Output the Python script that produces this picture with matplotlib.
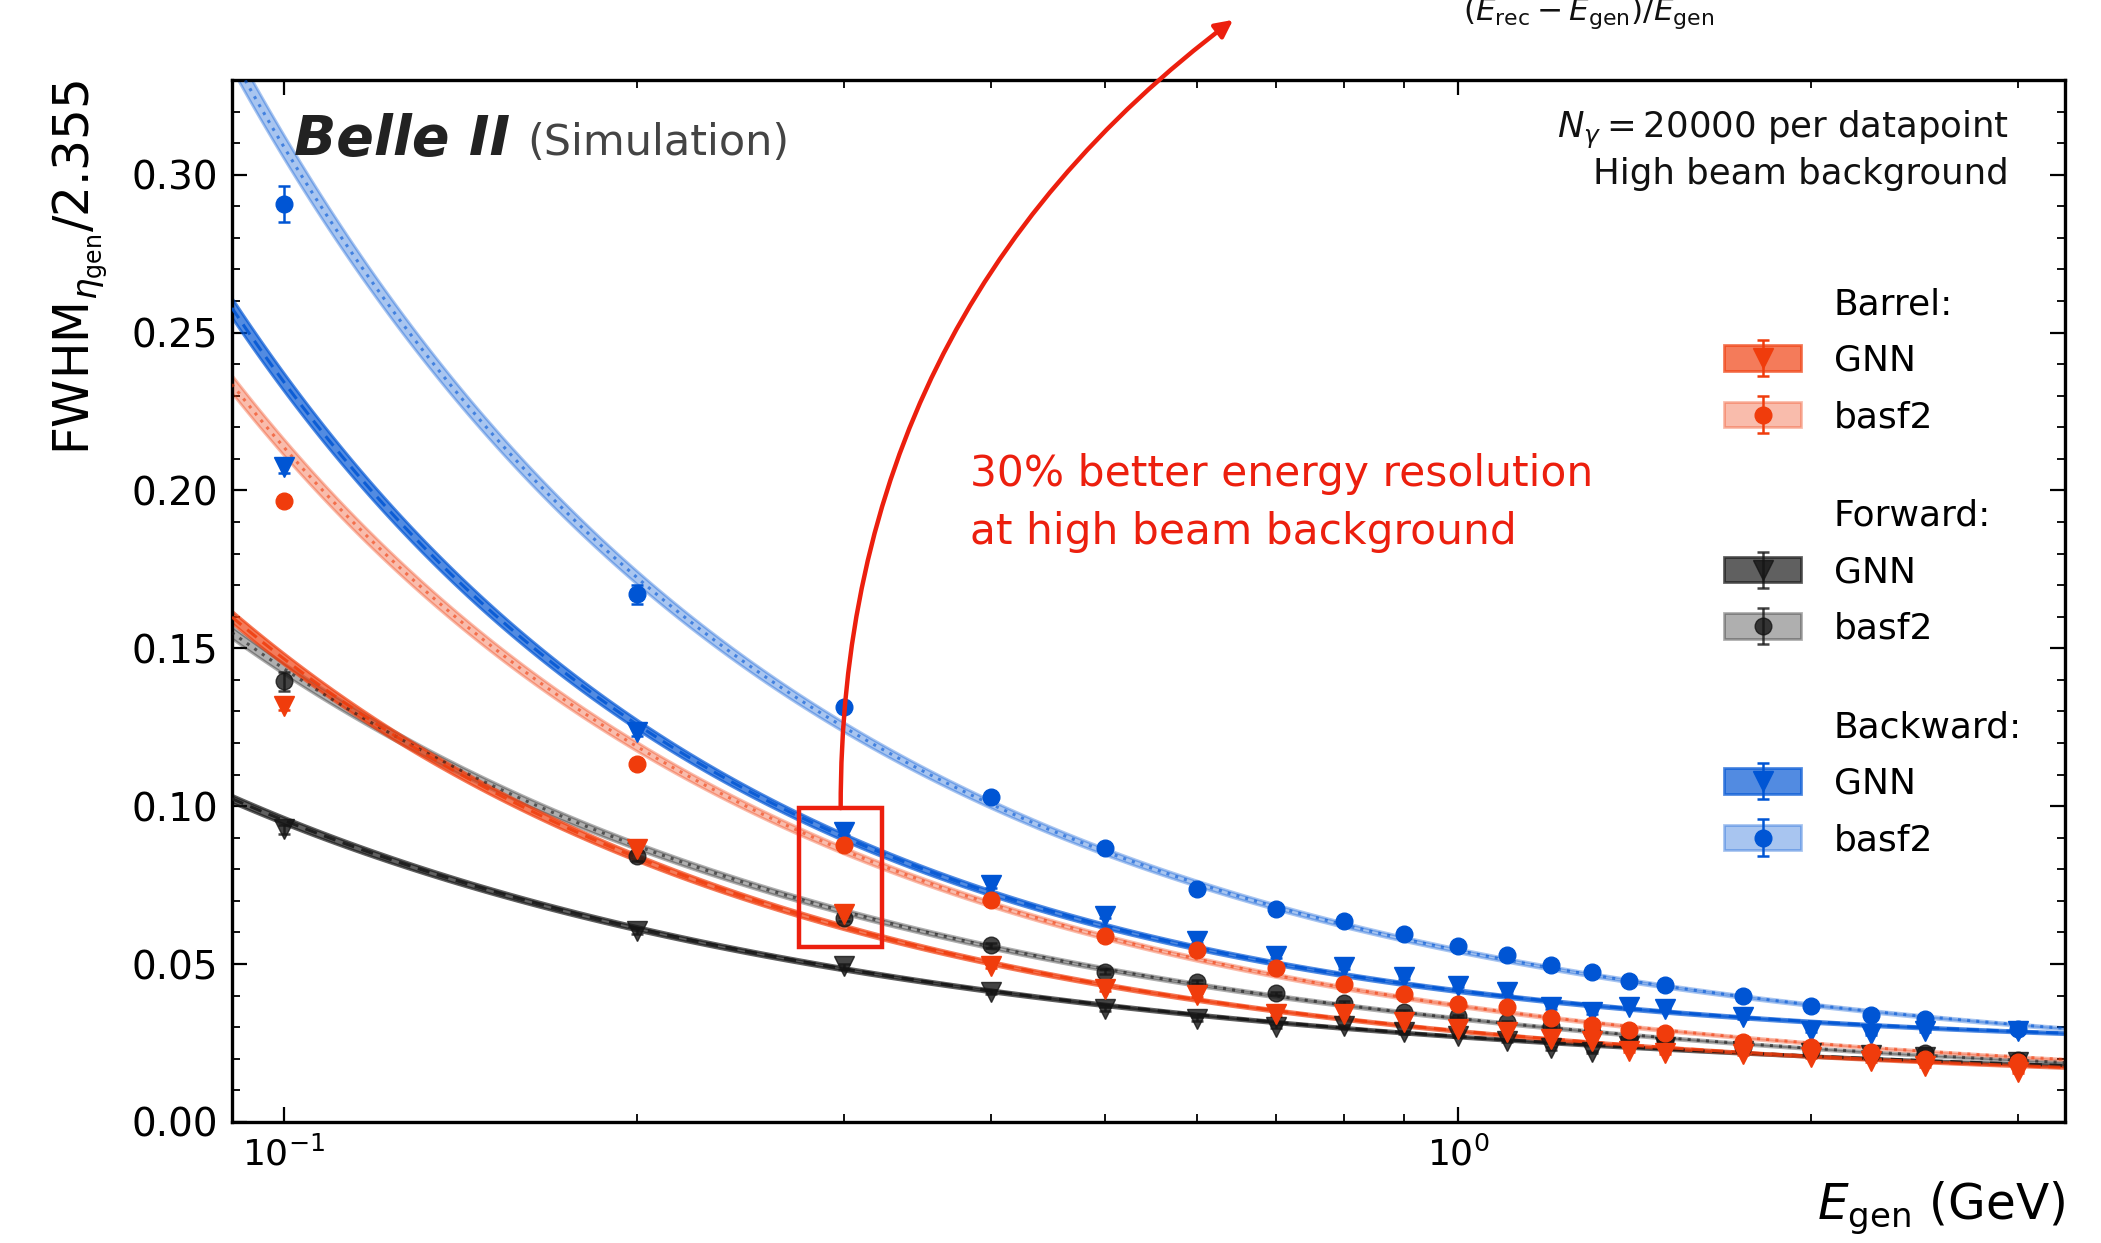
import numpy as np
import matplotlib
matplotlib.use("Agg")
from matplotlib import pyplot as plt
from matplotlib.patches import Patch, Rectangle
from matplotlib.legend import Legend
from matplotlib.ticker import MultipleLocator, FormatStrFormatter, NullFormatter

# generated photon energy (GeV)
energy = [0.1, 0.2, 0.3, 0.4, 0.5, 0.6, 0.7, 0.8, 0.9, 1.0,
          1.1, 1.2, 1.3, 1.4, 1.5, 1.75, 2.0, 2.25, 2.5, 3.0]

# FWHM/2.355 of (E_rec - E_gen)/E_gen
barrel_gnn = [0.1316, 0.0864, 0.0658, 0.0495, 0.0421, 0.0402, 0.0342, 0.0342, 0.0316, 0.0294,
              0.0284, 0.0263, 0.0257, 0.0226, 0.0218, 0.0215, 0.0205, 0.0194, 0.0178, 0.0157]
barrel_basf2 = [0.1966, 0.1133, 0.0878, 0.0703, 0.0590, 0.0545, 0.0488, 0.0437, 0.0404, 0.0374,
                0.0364, 0.0328, 0.0307, 0.0292, 0.0282, 0.0252, 0.0236, 0.0221, 0.0199, 0.0189]
forward_gnn = [0.0927, 0.0605, 0.0493, 0.0412, 0.0358, 0.0326, 0.0302, 0.0303, 0.0284, 0.0273,
               0.0257, 0.0233, 0.0221, 0.0241, 0.0236, 0.0225, 0.0218, 0.0211, 0.0206, 0.0189]
forward_basf2 = [0.1395, 0.0841, 0.0646, 0.0560, 0.0476, 0.0444, 0.0407, 0.0377, 0.0349, 0.0334,
                 0.0315, 0.0305, 0.0284, 0.0263, 0.0257, 0.0236, 0.0226, 0.0215, 0.0218, 0.0197]
backward_gnn = [0.2075, 0.1235, 0.0919, 0.0750, 0.0653, 0.0574, 0.0526, 0.0490, 0.0458, 0.0431,
                0.0410, 0.0363, 0.0347, 0.0363, 0.0358, 0.0331, 0.0289, 0.0278, 0.0289, 0.0289]
backward_basf2 = [0.2908, 0.1671, 0.1315, 0.1028, 0.0867, 0.0737, 0.0676, 0.0637, 0.0594, 0.0557,
                  0.0529, 0.0497, 0.0476, 0.0447, 0.0434, 0.0400, 0.0366, 0.0340, 0.0326, 0.0294]

# uncertainties on the resolution
barrel_gnn_err = [0.0012, 0.0010, 0.0008, 0.0006, 0.0006, 0.0005, 0.0005, 0.0005, 0.0004, 0.0004,
                  0.0004, 0.0004, 0.0004, 0.0003, 0.0003, 0.0003, 0.0003, 0.0003, 0.0003, 0.0003]
barrel_basf2_err = [0.0015, 0.0012, 0.0009, 0.0007, 0.0006, 0.0006, 0.0005, 0.0005, 0.0005, 0.0004,
                    0.0004, 0.0004, 0.0004, 0.0004, 0.0004, 0.0003, 0.0003, 0.0003, 0.0003, 0.0003]
forward_gnn_err = [0.0015, 0.0010, 0.0008, 0.0007, 0.0006, 0.0005, 0.0005, 0.0005, 0.0004, 0.0004,
                   0.0004, 0.0004, 0.0004, 0.0004, 0.0004, 0.0003, 0.0003, 0.0003, 0.0003, 0.0003]
forward_basf2_err = [0.0030, 0.0015, 0.0010, 0.0008, 0.0007, 0.0006, 0.0006, 0.0005, 0.0005, 0.0005,
                     0.0005, 0.0004, 0.0004, 0.0004, 0.0004, 0.0004, 0.0003, 0.0003, 0.0003, 0.0003]
backward_gnn_err = [0.0020, 0.0014, 0.0010, 0.0008, 0.0007, 0.0006, 0.0006, 0.0005, 0.0005, 0.0005,
                    0.0005, 0.0004, 0.0004, 0.0004, 0.0004, 0.0004, 0.0004, 0.0003, 0.0003, 0.0003]
backward_basf2_err = [0.0058, 0.0029, 0.0015, 0.0012, 0.0010, 0.0009, 0.0008, 0.0007, 0.0007, 0.0006,
                      0.0006, 0.0006, 0.0005, 0.0005, 0.0005, 0.0005, 0.0004, 0.0004, 0.0004, 0.0004]

# resolution fit curves, sampled at a few energies
fit_energy = [0.0903, 0.2, 0.3, 1.0, 3.29]
barrel_gnn_fit = [0.160, 0.0832, 0.0621, 0.0289, 0.0172]
barrel_basf2_fit = [0.234, 0.1175, 0.0864, 0.0384, 0.0188]
forward_gnn_fit = [0.1023, 0.0617, 0.0482, 0.0269, 0.0180]
forward_basf2_fit = [0.155, 0.0874, 0.0664, 0.0332, 0.0186]
backward_gnn_fit = [0.258, 0.1244, 0.0918, 0.0411, 0.0282]
backward_basf2_fit = [0.338, 0.170, 0.1266, 0.0555, 0.0287]

RED = "#f03c0c"
BLACK = "#151515"
BLUE = "#0055d4"
HIGHLIGHT = "#ec1f0e"

xmin, xmax = 0.0903, 3.29
egrid = np.geomspace(xmin, xmax, 400)


def resolution_curve(samples):
    # sigma = a/E + b/sqrt(E) + c through the sampled fit values
    e = np.array(fit_energy)
    A = np.vstack([1 / e, 1 / np.sqrt(e), np.ones_like(e)]).T
    coef, *_ = np.linalg.lstsq(A, np.array(samples), rcond=None)
    return coef[0] / egrid + coef[1] / np.sqrt(egrid) + coef[2]


fig = plt.figure(figsize=(21.01, 12.43), dpi=100)
ax = fig.add_axes([0.1104, 0.0974, 0.8725, 0.8382])
ax.set_xscale("log")

series = {
    "Backward": [(backward_gnn, backward_gnn_err, backward_gnn_fit, "GNN"),
                 (backward_basf2, backward_basf2_err, backward_basf2_fit, "basf2")],
    "Forward": [(forward_gnn, forward_gnn_err, forward_gnn_fit, "GNN"),
                (forward_basf2, forward_basf2_err, forward_basf2_fit, "basf2")],
    "Barrel": [(barrel_gnn, barrel_gnn_err, barrel_gnn_fit, "GNN"),
               (barrel_basf2, barrel_basf2_err, barrel_basf2_fit, "basf2")],
}
colors = {"Barrel": RED, "Forward": BLACK, "Backward": BLUE}
band_alpha = {"GNN": 0.68, "basf2": 0.34}

# fitted curves with bands first, points on top
for region, entries in series.items():
    c = colors[region]
    for vals, err, fit, algo in entries[::-1]:
        f = resolution_curve(fit)
        ax.fill_between(egrid, f * 0.988, f * 1.012, color=c, alpha=band_alpha[algo],
                        lw=2.0, zorder=2)
        ls = (0, (4, 2.5)) if algo == "GNN" else (0, (1, 2))
        ax.plot(egrid, f, color=c, ls=ls, lw=2.2, alpha=0.85 if algo == "GNN" else 0.6, zorder=3)

handles = {}
for region, entries in series.items():
    c = colors[region]
    for vals, err, fit, algo in entries:
        marker, ms = ("v", 14) if algo == "GNN" else ("o", 12)
        eb = ax.errorbar(energy, vals, yerr=err, fmt=marker, ms=ms, color=c,
                         mec=c, elinewidth=1.8, capsize=4, capthick=1.8,
                         alpha=0.8 if region == "Forward" else 1.0, zorder=4)
        band = Patch(facecolor=c, edgecolor=c, lw=2, alpha=band_alpha[algo])
        handles[(region, algo)] = (band, eb)

ax.set_xlim(xmin, xmax)
ax.set_ylim(0, 0.33)
ax.yaxis.set_major_locator(MultipleLocator(0.05))
ax.yaxis.set_minor_locator(MultipleLocator(0.01))
ax.yaxis.set_major_formatter(FormatStrFormatter("%.2f"))
ax.xaxis.set_minor_formatter(NullFormatter())
ax.tick_params(which="both", direction="in", top=True, right=True, labelsize=26, pad=10)
ax.tick_params(axis="y", labelsize=28)
ax.tick_params(which="major", length=11, width=1.6)
ax.tick_params(which="minor", length=5.5, width=1.3)
for sp in ax.spines.values():
    sp.set_linewidth(2.4)

ax.set_ylabel(r"FWHM$_{\eta_{\mathrm{gen}}}$/2.355", fontsize=35, loc="top", labelpad=15)
ax.set_xlabel(r"$E_{\mathrm{gen}}$ (GeV)", fontsize=35, loc="right", labelpad=6)

# one small legend per detector region
legend_tops = {"Barrel": 0.801, "Forward": 0.598, "Backward": 0.395}
for region in ["Barrel", "Forward", "Backward"]:
    hs = [Patch(facecolor="none", edgecolor="none"),
          handles[(region, "GNN")], handles[(region, "basf2")]]
    leg = Legend(ax, hs, [region + ":", "GNN", "basf2"], loc="upper left",
                 bbox_to_anchor=(0.8138, legend_tops[region]), bbox_transform=ax.transAxes,
                 frameon=False, fontsize=26, handlelength=2.15, handleheight=0.7,
                 handletextpad=0.9, labelspacing=0.62, borderpad=0, borderaxespad=0)
    ax.add_artist(leg)

ax.text(0.034, 0.928, "Belle II", transform=ax.transAxes, fontsize=40,
        fontweight="bold", fontstyle="italic", color="#222222", va="baseline")
ax.text(0.161, 0.928, "(Simulation)", transform=ax.transAxes, fontsize=31,
        color="#444444", va="baseline")
ax.text(0.9694, 0.944, r"$N_{\gamma} = 20000$ per datapoint", transform=ax.transAxes,
        fontsize=25.6, ha="right", va="baseline", color="#111111")
ax.text(0.9694, 0.900, "High beam background", transform=ax.transAxes,
        fontsize=25.6, ha="right", va="baseline", color="#111111")

ax.text(0.4025, 0.594, "30% better energy resolution\nat high beam background",
        transform=ax.transAxes, fontsize=30.5, color=HIGHLIGHT, va="center",
        linespacing=1.48)

# highlighted region around 0.3 GeV
ax.add_patch(Rectangle((0.2747, 0.0554), 0.3229 - 0.2747, 0.0994 - 0.0554,
                       fill=False, ec=HIGHLIGHT, lw=3.2, zorder=5))
ax.annotate("", xy=(0.5869, 0.984), xycoords="figure fraction",
            xytext=(0.298, 0.0994), textcoords="data",
            arrowprops=dict(arrowstyle="-|>", color=HIGHLIGHT, lw=3.2,
                            connectionstyle="arc3,rad=-0.25", shrinkA=0, shrinkB=0,
                            mutation_scale=26),
            annotation_clip=False, zorder=5)

fig.text(0.756, 1 - 20 / 1243, r"$(E_{\mathrm{rec}} - E_{\mathrm{gen}})/E_{\mathrm{gen}}$",
         ha="center", va="baseline", fontsize=22.5, color="#111111")

fig.savefig("out.png", dpi=100)
